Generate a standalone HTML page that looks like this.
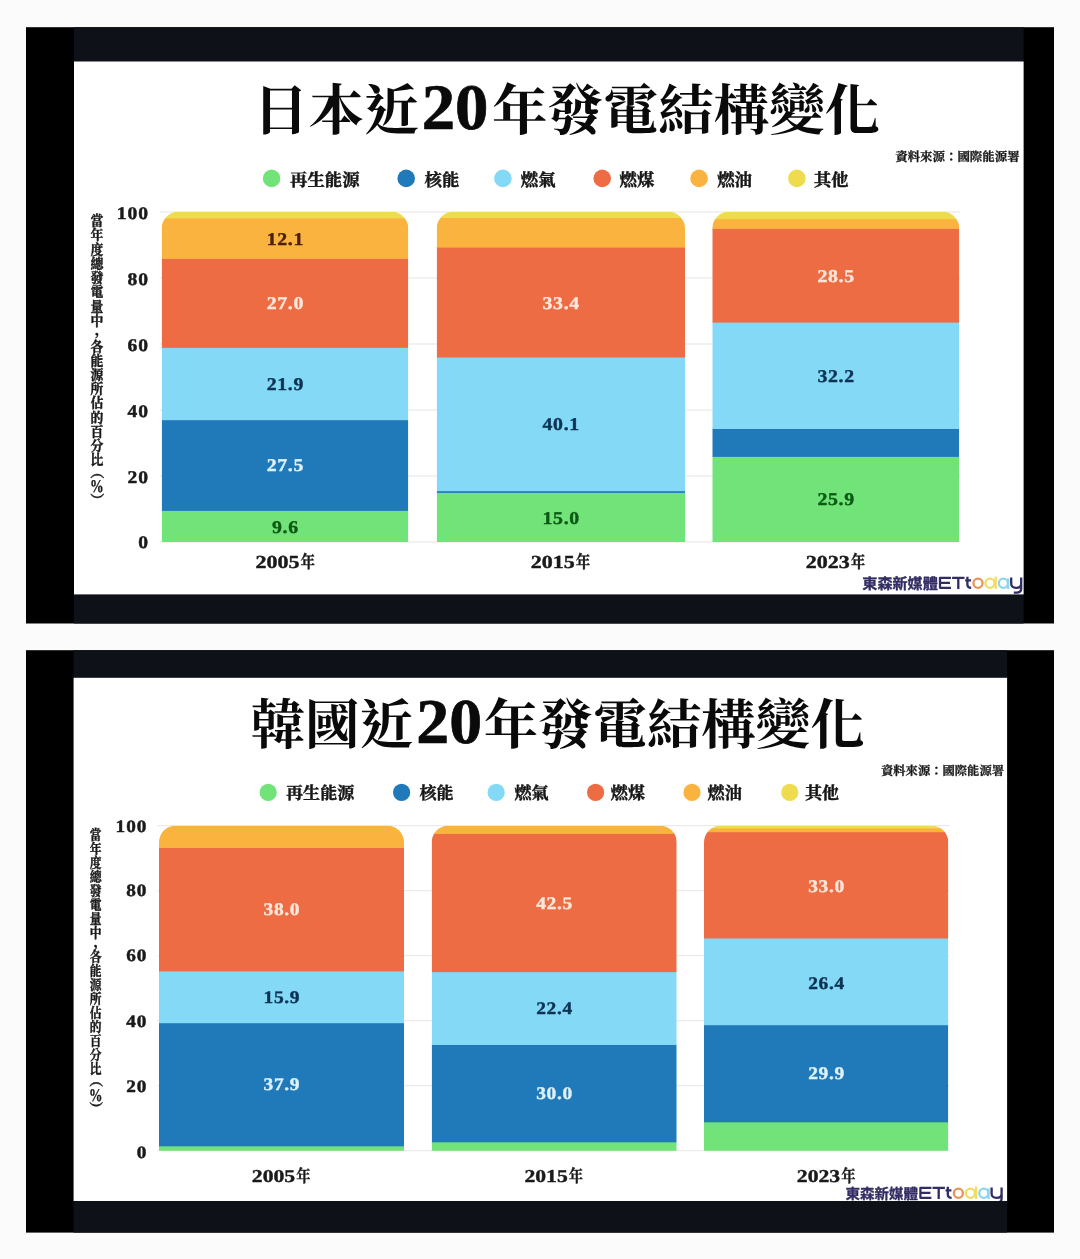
<!DOCTYPE html>
<html lang="zh-Hant">
<head>
<meta charset="utf-8">
<title>日本、韓國近20年發電結構變化</title>
<style>
html,body{margin:0;padding:0;background:#fbfbfb;}
body{width:1080px;height:1259px;overflow:hidden;position:relative;font-family:"Liberation Serif",serif;}
svg{position:absolute;left:0;top:0;display:block;will-change:transform;}
.cjk{font-family:"Liberation Serif","Noto Serif CJK SC",serif;font-weight:700;}
.cjks{font-family:"Liberation Sans","Noto Sans CJK TC",sans-serif;font-weight:700;}
</style>
</head>
<body>
<svg width="1080" height="1259" viewBox="0 0 1080 1259" text-rendering="geometricPrecision">
<rect x="26" y="27.2" width="1028" height="596.3" fill="#000"/>
<rect x="74" y="27.2" width="949.6" height="596.3" fill="#0e1218"/>
<rect x="74" y="61.5" width="949.6" height="532.9" fill="#fff"/>
<clipPath id="cp1"><rect x="74" y="61.5" width="949.6" height="532.9"/></clipPath>
<g clip-path="url(#cp1)">
<text class="cjk" x="253" y="129.5" font-size="55.45" fill="#0a0a0a">日本近</text>
<text transform="translate(421.75 129.2) scale(1.03 1)" font-family="Liberation Serif" font-weight="700" font-size="64.8" fill="#0a0a0a" stroke="#0a0a0a" stroke-width="0.7">20</text>
<text class="cjk" x="491.95" y="129.5" font-size="55.45" fill="#0a0a0a">年發電結構變化</text>
<text class="cjk" x="895.2" y="160.7" font-size="12.45" fill="#1a1a1a" stroke="#1a1a1a" stroke-width="0.3" stroke-linejoin="round">資料來源：國際能源署</text>
<circle cx="271.6" cy="178.4" r="8.8" fill="#72e379"/>
<text class="cjk" x="290" y="185.6" font-size="17.4" fill="#161616" stroke="#161616" stroke-width="0.45" stroke-linejoin="round">再生能源</text>
<circle cx="406.2" cy="178.4" r="8.8" fill="#2079b8"/>
<text class="cjk" x="424.6" y="185.6" font-size="17.4" fill="#161616" stroke="#161616" stroke-width="0.45" stroke-linejoin="round">核能</text>
<circle cx="502.9" cy="178.4" r="8.8" fill="#83d9f6"/>
<text class="cjk" x="520.8" y="185.6" font-size="17.4" fill="#161616" stroke="#161616" stroke-width="0.45" stroke-linejoin="round">燃氣</text>
<circle cx="602.2" cy="178.4" r="8.8" fill="#ed6c43"/>
<text class="cjk" x="619.5" y="185.6" font-size="17.4" fill="#161616" stroke="#161616" stroke-width="0.45" stroke-linejoin="round">燃煤</text>
<circle cx="699.1" cy="178.4" r="8.8" fill="#fbb33f"/>
<text class="cjk" x="717.2" y="185.6" font-size="17.4" fill="#161616" stroke="#161616" stroke-width="0.45" stroke-linejoin="round">燃油</text>
<circle cx="796.9" cy="178.4" r="8.8" fill="#efdc4e"/>
<text class="cjk" x="813.8" y="185.6" font-size="17.4" fill="#161616" stroke="#161616" stroke-width="0.45" stroke-linejoin="round">其他</text>
<rect x="160" y="541.5" width="800.5" height="1" fill="#e6e6e6"/>
<rect x="160" y="475.5" width="800.5" height="1" fill="#e6e6e6"/>
<rect x="160" y="409.5" width="800.5" height="1" fill="#e6e6e6"/>
<rect x="160" y="343.5" width="800.5" height="1" fill="#e6e6e6"/>
<rect x="160" y="277.5" width="800.5" height="1" fill="#e6e6e6"/>
<rect x="160" y="211.5" width="800.5" height="1" fill="#e6e6e6"/>
<text transform="translate(148 218.82) scale(1.1 1)" x="0.9" text-anchor="end" font-family="Liberation Serif" font-weight="700" font-size="17.8" letter-spacing="0.9" fill="#1a1a1a" stroke="#1a1a1a" stroke-width="0.45" stroke-linejoin="round">100</text>
<text transform="translate(148 285.02) scale(1.1 1)" x="0.9" text-anchor="end" font-family="Liberation Serif" font-weight="700" font-size="17.8" letter-spacing="0.9" fill="#1a1a1a" stroke="#1a1a1a" stroke-width="0.45" stroke-linejoin="round">80</text>
<text transform="translate(148 351.32) scale(1.1 1)" x="0.9" text-anchor="end" font-family="Liberation Serif" font-weight="700" font-size="17.8" letter-spacing="0.9" fill="#1a1a1a" stroke="#1a1a1a" stroke-width="0.45" stroke-linejoin="round">60</text>
<text transform="translate(148 417.02) scale(1.1 1)" x="0.9" text-anchor="end" font-family="Liberation Serif" font-weight="700" font-size="17.8" letter-spacing="0.9" fill="#1a1a1a" stroke="#1a1a1a" stroke-width="0.45" stroke-linejoin="round">40</text>
<text transform="translate(148 482.72) scale(1.1 1)" x="0.9" text-anchor="end" font-family="Liberation Serif" font-weight="700" font-size="17.8" letter-spacing="0.9" fill="#1a1a1a" stroke="#1a1a1a" stroke-width="0.45" stroke-linejoin="round">20</text>
<text transform="translate(148 548.42) scale(1.1 1)" x="0.9" text-anchor="end" font-family="Liberation Serif" font-weight="700" font-size="17.8" letter-spacing="0.9" fill="#1a1a1a" stroke="#1a1a1a" stroke-width="0.45" stroke-linejoin="round">0</text>
<g fill="#1a1a1a" stroke="#1a1a1a" stroke-width="0.45" stroke-linejoin="round">
<text class="cjk" transform="translate(90.48 0) scale(0.88 1)" font-size="14.6" x="0 0 0 0 0 0 0 0 0 0 0 0 0 0 0 0 0" y="225.95 240.25 254.55 268.85 283.15 297.45 311.75 326.05 351.95 366.08 380.21 394.34 408.47 422.6 436.73 450.86 464.99">當年度總發電量中各能源所佔的百分比</text>
<text class="cjk" x="94.8" y="334.5" font-size="14.6">，</text>
<g transform="translate(96.9 486) rotate(90)">
<text class="cjk" x="-20.94" y="5.27" font-size="13.87">（</text>
<text class="cjk" x="7.07" y="5.27" font-size="13.87">）</text>
</g>
</g>
<text transform="translate(96.9 492.39) scale(0.76 1)" text-anchor="middle" font-family="Liberation Serif" font-weight="700" font-size="18" fill="#1a1a1a" stroke="#1a1a1a" stroke-width="0.3">%</text>
<clipPath id="bp10"><path d="M161.7 542 V228.3 A16.5 16.5 0 0 1 178.2 211.8 H391.8 A16.5 16.5 0 0 1 408.3 228.3 V542 Z"/></clipPath>
<g clip-path="url(#bp10)">
<rect x="161.7" y="510.3" width="246.6" height="32.3" fill="#72e379"/>
<rect x="161.7" y="419.6" width="246.6" height="91.3" fill="#2079b8"/>
<rect x="161.7" y="347.3" width="246.6" height="72.9" fill="#83d9f6"/>
<rect x="161.7" y="258.2" width="246.6" height="89.7" fill="#ed6c43"/>
<rect x="161.7" y="217.8" width="246.6" height="41" fill="#fbb33f"/>
<rect x="161.7" y="211.8" width="246.6" height="6.6" fill="#efdc4e"/>
</g>
<text transform="translate(285 245.28) scale(1.1 1)" x="0.3" text-anchor="middle" font-family="Liberation Serif" font-weight="700" font-size="18" letter-spacing="0.6" fill="#4a2203" stroke="#4a2203" stroke-width="0.4" stroke-linejoin="round">12.1</text>
<text transform="translate(285 308.88) scale(1.1 1)" x="0.3" text-anchor="middle" font-family="Liberation Serif" font-weight="700" font-size="18" letter-spacing="0.6" fill="#fde6da" stroke="#fde6da" stroke-width="0.4" stroke-linejoin="round">27.0</text>
<text transform="translate(285 389.58) scale(1.1 1)" x="0.3" text-anchor="middle" font-family="Liberation Serif" font-weight="700" font-size="18" letter-spacing="0.6" fill="#0c3353" stroke="#0c3353" stroke-width="0.4" stroke-linejoin="round">21.9</text>
<text transform="translate(285 471.48) scale(1.1 1)" x="0.3" text-anchor="middle" font-family="Liberation Serif" font-weight="700" font-size="18" letter-spacing="0.6" fill="#dcf1fb" stroke="#dcf1fb" stroke-width="0.4" stroke-linejoin="round">27.5</text>
<text transform="translate(285 532.58) scale(1.1 1)" x="0.3" text-anchor="middle" font-family="Liberation Serif" font-weight="700" font-size="18" letter-spacing="0.6" fill="#0b5a14" stroke="#0b5a14" stroke-width="0.4" stroke-linejoin="round">9.6</text>
<text x="255.41" y="567.72" font-family="Liberation Serif" font-weight="700" font-size="18.4" textLength="44" lengthAdjust="spacingAndGlyphs" fill="#1a1a1a" stroke="#1a1a1a" stroke-width="0.4">2005</text>
<text class="cjk" transform="translate(300.41 567.8) scale(0.82 1)" font-size="17.7" fill="#1a1a1a" stroke="#1a1a1a" stroke-width="0.35" stroke-linejoin="round">年</text>
<clipPath id="bp11"><path d="M436.7 542 V228.3 A16.5 16.5 0 0 1 453.2 211.8 H668.5 A16.5 16.5 0 0 1 685 228.3 V542 Z"/></clipPath>
<g clip-path="url(#bp11)">
<rect x="436.7" y="492.3" width="248.3" height="50.3" fill="#72e379"/>
<rect x="436.7" y="490.6" width="248.3" height="2.3" fill="#2079b8"/>
<rect x="436.7" y="356.9" width="248.3" height="134.3" fill="#83d9f6"/>
<rect x="436.7" y="247" width="248.3" height="110.5" fill="#ed6c43"/>
<rect x="436.7" y="217.4" width="248.3" height="30.2" fill="#fbb33f"/>
<rect x="436.7" y="211.8" width="248.3" height="6.2" fill="#efdc4e"/>
</g>
<text transform="translate(560.85 308.68) scale(1.1 1)" x="0.3" text-anchor="middle" font-family="Liberation Serif" font-weight="700" font-size="18" letter-spacing="0.6" fill="#fde6da" stroke="#fde6da" stroke-width="0.4" stroke-linejoin="round">33.4</text>
<text transform="translate(560.85 429.68) scale(1.1 1)" x="0.3" text-anchor="middle" font-family="Liberation Serif" font-weight="700" font-size="18" letter-spacing="0.6" fill="#0c3353" stroke="#0c3353" stroke-width="0.4" stroke-linejoin="round">40.1</text>
<text transform="translate(560.85 523.58) scale(1.1 1)" x="0.3" text-anchor="middle" font-family="Liberation Serif" font-weight="700" font-size="18" letter-spacing="0.6" fill="#0b5a14" stroke="#0b5a14" stroke-width="0.4" stroke-linejoin="round">15.0</text>
<text x="530.81" y="567.72" font-family="Liberation Serif" font-weight="700" font-size="18.4" textLength="44" lengthAdjust="spacingAndGlyphs" fill="#1a1a1a" stroke="#1a1a1a" stroke-width="0.4">2015</text>
<text class="cjk" transform="translate(575.81 567.8) scale(0.82 1)" font-size="17.7" fill="#1a1a1a" stroke="#1a1a1a" stroke-width="0.35" stroke-linejoin="round">年</text>
<clipPath id="bp12"><path d="M712.3 542 V228.3 A16.5 16.5 0 0 1 728.8 211.8 H942.8 A16.5 16.5 0 0 1 959.3 228.3 V542 Z"/></clipPath>
<g clip-path="url(#bp12)">
<rect x="712.3" y="456.3" width="247" height="86.3" fill="#72e379"/>
<rect x="712.3" y="428.4" width="247" height="28.5" fill="#2079b8"/>
<rect x="712.3" y="322" width="247" height="107" fill="#83d9f6"/>
<rect x="712.3" y="228.2" width="247" height="94.4" fill="#ed6c43"/>
<rect x="712.3" y="218.6" width="247" height="10.2" fill="#fbb33f"/>
<rect x="712.3" y="211.8" width="247" height="7.4" fill="#efdc4e"/>
</g>
<text transform="translate(835.8 281.68) scale(1.1 1)" x="0.3" text-anchor="middle" font-family="Liberation Serif" font-weight="700" font-size="18" letter-spacing="0.6" fill="#fde6da" stroke="#fde6da" stroke-width="0.4" stroke-linejoin="round">28.5</text>
<text transform="translate(835.8 381.68) scale(1.1 1)" x="0.3" text-anchor="middle" font-family="Liberation Serif" font-weight="700" font-size="18" letter-spacing="0.6" fill="#0c3353" stroke="#0c3353" stroke-width="0.4" stroke-linejoin="round">32.2</text>
<text transform="translate(835.8 504.88) scale(1.1 1)" x="0.3" text-anchor="middle" font-family="Liberation Serif" font-weight="700" font-size="18" letter-spacing="0.6" fill="#0b5a14" stroke="#0b5a14" stroke-width="0.4" stroke-linejoin="round">25.9</text>
<text x="805.81" y="567.72" font-family="Liberation Serif" font-weight="700" font-size="18.4" textLength="44" lengthAdjust="spacingAndGlyphs" fill="#1a1a1a" stroke="#1a1a1a" stroke-width="0.4">2023</text>
<text class="cjk" transform="translate(850.81 567.8) scale(0.82 1)" font-size="17.7" fill="#1a1a1a" stroke="#1a1a1a" stroke-width="0.35" stroke-linejoin="round">年</text>
<text class="cjks" x="862.3" y="589" font-size="15.1" fill="#312c62" stroke="#312c62" stroke-width="0.35" stroke-linejoin="round">東森新媒體</text>
<g role="img" aria-label="ETtoday" transform="translate(937.8 589) scale(1)" fill="none" stroke-width="2.3" stroke-linecap="butt" stroke-linejoin="round"><path stroke="#312c62" d="M13.2 -11.1H2.2V-1.2H13.2M2.2 -6.15H12.2"/><path stroke="#312c62" d="M14.3 -11.1H26.7M20.5 -11.1V0"/><path stroke="#312c62" d="M29.6 -12.3V-4.2Q29.6 -1.2 33.4 -1.2M27.4 -8.6H33.2"/><circle stroke="#e9925a" cx="40.2" cy="-5.75" r="4.55"/><circle stroke="#f1dc63" cx="52.2" cy="-5.75" r="4.55"/><path stroke="#f1dc63" d="M57.9 -12.3V0"/><circle stroke="#8fd4ee" cx="65.6" cy="-5.75" r="4.55"/><path stroke="#8fd4ee" d="M70.3 -10.6V0"/><path stroke="#312c62" d="M73.4 -11.4V-5.6Q73.4 -1.2 78.4 -1.2Q83.4 -1.2 83.4 -5.6M83.4 -11.4V-0.5Q83.4 3.6 78.6 3.6H76"/></g>
</g>
<rect x="26" y="650.2" width="1028" height="582.4" fill="#000"/>
<rect x="73.6" y="650.2" width="933.5" height="582.4" fill="#0e1218"/>
<rect x="73.6" y="677.8" width="933.5" height="523.2" fill="#fff"/>
<clipPath id="cp2"><rect x="73.6" y="677.8" width="933.5" height="523.2"/></clipPath>
<g clip-path="url(#cp2)">
<text class="cjk" x="250.7" y="743.6" font-size="54.4" fill="#0a0a0a">韓國近</text>
<text transform="translate(416.3 743.3) scale(1.03 1)" font-family="Liberation Serif" font-weight="700" font-size="63.8" fill="#0a0a0a" stroke="#0a0a0a" stroke-width="0.7">20</text>
<text class="cjk" x="483.8" y="743.6" font-size="54.4" fill="#0a0a0a">年發電結構變化</text>
<text class="cjk" x="881" y="774.9" font-size="12.3" fill="#1a1a1a" stroke="#1a1a1a" stroke-width="0.3" stroke-linejoin="round">資料來源：國際能源署</text>
<circle cx="268.2" cy="792.4" r="8.6" fill="#72e379"/>
<text class="cjk" x="286" y="799.4" font-size="17.1" fill="#161616" stroke="#161616" stroke-width="0.45" stroke-linejoin="round">再生能源</text>
<circle cx="401.6" cy="792.4" r="8.6" fill="#2079b8"/>
<text class="cjk" x="419.4" y="799.4" font-size="17.1" fill="#161616" stroke="#161616" stroke-width="0.45" stroke-linejoin="round">核能</text>
<circle cx="496.2" cy="792.4" r="8.6" fill="#83d9f6"/>
<text class="cjk" x="514.4" y="799.4" font-size="17.1" fill="#161616" stroke="#161616" stroke-width="0.45" stroke-linejoin="round">燃氣</text>
<circle cx="595.6" cy="792.4" r="8.6" fill="#ed6c43"/>
<text class="cjk" x="610.8" y="799.4" font-size="17.1" fill="#161616" stroke="#161616" stroke-width="0.45" stroke-linejoin="round">燃煤</text>
<circle cx="692" cy="792.4" r="8.6" fill="#fbb33f"/>
<text class="cjk" x="707.6" y="799.4" font-size="17.1" fill="#161616" stroke="#161616" stroke-width="0.45" stroke-linejoin="round">燃油</text>
<circle cx="789.8" cy="792.4" r="8.6" fill="#efdc4e"/>
<text class="cjk" x="805" y="799.4" font-size="17.1" fill="#161616" stroke="#161616" stroke-width="0.45" stroke-linejoin="round">其他</text>
<rect x="157.5" y="1150.2" width="792" height="1" fill="#e6e6e6"/>
<rect x="157.5" y="1085.2" width="792" height="1" fill="#e6e6e6"/>
<rect x="157.5" y="1020.2" width="792" height="1" fill="#e6e6e6"/>
<rect x="157.5" y="955.2" width="792" height="1" fill="#e6e6e6"/>
<rect x="157.5" y="890.2" width="792" height="1" fill="#e6e6e6"/>
<rect x="157.5" y="825.2" width="792" height="1" fill="#e6e6e6"/>
<text transform="translate(146.4 832.12) scale(1.1 1)" x="0.9" text-anchor="end" font-family="Liberation Serif" font-weight="700" font-size="17.5" letter-spacing="0.9" fill="#1a1a1a" stroke="#1a1a1a" stroke-width="0.45" stroke-linejoin="round">100</text>
<text transform="translate(146.4 896.12) scale(1.1 1)" x="0.9" text-anchor="end" font-family="Liberation Serif" font-weight="700" font-size="17.5" letter-spacing="0.9" fill="#1a1a1a" stroke="#1a1a1a" stroke-width="0.45" stroke-linejoin="round">80</text>
<text transform="translate(146.4 961.41) scale(1.1 1)" x="0.9" text-anchor="end" font-family="Liberation Serif" font-weight="700" font-size="17.5" letter-spacing="0.9" fill="#1a1a1a" stroke="#1a1a1a" stroke-width="0.45" stroke-linejoin="round">60</text>
<text transform="translate(146.4 1027.02) scale(1.1 1)" x="0.9" text-anchor="end" font-family="Liberation Serif" font-weight="700" font-size="17.5" letter-spacing="0.9" fill="#1a1a1a" stroke="#1a1a1a" stroke-width="0.45" stroke-linejoin="round">40</text>
<text transform="translate(146.4 1092.12) scale(1.1 1)" x="0.9" text-anchor="end" font-family="Liberation Serif" font-weight="700" font-size="17.5" letter-spacing="0.9" fill="#1a1a1a" stroke="#1a1a1a" stroke-width="0.45" stroke-linejoin="round">20</text>
<text transform="translate(146.4 1157.71) scale(1.1 1)" x="0.9" text-anchor="end" font-family="Liberation Serif" font-weight="700" font-size="17.5" letter-spacing="0.9" fill="#1a1a1a" stroke="#1a1a1a" stroke-width="0.45" stroke-linejoin="round">0</text>
<g fill="#1a1a1a" stroke="#1a1a1a" stroke-width="0.42" stroke-linejoin="round">
<text class="cjk" transform="translate(89.82 0) scale(0.82 1)" font-size="14.35" x="0 0 0 0 0 0 0 0 0 0 0 0 0 0 0 0 0" y="840.25 854.23 868.21 882.19 896.17 910.15 924.13 938.11 961.95 975.9 989.85 1003.8 1017.75 1031.7 1045.65 1059.6 1073.55">當年度總發電量中各能源所佔的百分比</text>
<text class="cjk" x="93.6" y="947.3" font-size="14.35">，</text>
<g transform="translate(95.7 1094.3) rotate(90)">
<text class="cjk" x="-20.78" y="5.18" font-size="13.63">（</text>
<text class="cjk" x="7.15" y="5.18" font-size="13.63">）</text>
</g>
</g>
<text transform="translate(95.7 1101.09) scale(0.76 1)" text-anchor="middle" font-family="Liberation Serif" font-weight="700" font-size="17.7" fill="#1a1a1a" stroke="#1a1a1a" stroke-width="0.3">%</text>
<clipPath id="bp20"><path d="M159 1150.7 V842.2 A16.5 16.5 0 0 1 175.5 825.7 H387.5 A16.5 16.5 0 0 1 404 842.2 V1150.7 Z"/></clipPath>
<g clip-path="url(#bp20)">
<rect x="159" y="1145.7" width="245" height="5.6" fill="#72e379"/>
<rect x="159" y="1022.6" width="245" height="123.7" fill="#2079b8"/>
<rect x="159" y="970.8" width="245" height="52.4" fill="#83d9f6"/>
<rect x="159" y="847.3" width="245" height="124.1" fill="#ed6c43"/>
<rect x="159" y="825.7" width="245" height="22.2" fill="#fbb33f"/>
</g>
<text transform="translate(281.5 915.18) scale(1.1 1)" x="0.3" text-anchor="middle" font-family="Liberation Serif" font-weight="700" font-size="17.7" letter-spacing="0.6" fill="#fde6da" stroke="#fde6da" stroke-width="0.4" stroke-linejoin="round">38.0</text>
<text transform="translate(281.5 1002.68) scale(1.1 1)" x="0.3" text-anchor="middle" font-family="Liberation Serif" font-weight="700" font-size="17.7" letter-spacing="0.6" fill="#0c3353" stroke="#0c3353" stroke-width="0.4" stroke-linejoin="round">15.9</text>
<text transform="translate(281.5 1090.18) scale(1.1 1)" x="0.3" text-anchor="middle" font-family="Liberation Serif" font-weight="700" font-size="17.7" letter-spacing="0.6" fill="#dcf1fb" stroke="#dcf1fb" stroke-width="0.4" stroke-linejoin="round">37.9</text>
<text x="251.87" y="1181.62" font-family="Liberation Serif" font-weight="700" font-size="18.1" textLength="43.3" lengthAdjust="spacingAndGlyphs" fill="#1a1a1a" stroke="#1a1a1a" stroke-width="0.4">2005</text>
<text class="cjk" transform="translate(296.17 1181.7) scale(0.82 1)" font-size="17.4" fill="#1a1a1a" stroke="#1a1a1a" stroke-width="0.35" stroke-linejoin="round">年</text>
<clipPath id="bp21"><path d="M431.7 1150.7 V842.2 A16.5 16.5 0 0 1 448.2 825.7 H660.2 A16.5 16.5 0 0 1 676.7 842.2 V1150.7 Z"/></clipPath>
<g clip-path="url(#bp21)">
<rect x="431.7" y="1141.7" width="245" height="9.6" fill="#72e379"/>
<rect x="431.7" y="1044.4" width="245" height="97.9" fill="#2079b8"/>
<rect x="431.7" y="971.5" width="245" height="73.5" fill="#83d9f6"/>
<rect x="431.7" y="833.3" width="245" height="138.8" fill="#ed6c43"/>
<rect x="431.7" y="825.7" width="245" height="8.2" fill="#fbb33f"/>
</g>
<text transform="translate(554.2 908.78) scale(1.1 1)" x="0.3" text-anchor="middle" font-family="Liberation Serif" font-weight="700" font-size="17.7" letter-spacing="0.6" fill="#fde6da" stroke="#fde6da" stroke-width="0.4" stroke-linejoin="round">42.5</text>
<text transform="translate(554.2 1013.98) scale(1.1 1)" x="0.3" text-anchor="middle" font-family="Liberation Serif" font-weight="700" font-size="17.7" letter-spacing="0.6" fill="#0c3353" stroke="#0c3353" stroke-width="0.4" stroke-linejoin="round">22.4</text>
<text transform="translate(554.2 1099.18) scale(1.1 1)" x="0.3" text-anchor="middle" font-family="Liberation Serif" font-weight="700" font-size="17.7" letter-spacing="0.6" fill="#dcf1fb" stroke="#dcf1fb" stroke-width="0.4" stroke-linejoin="round">30.0</text>
<text x="524.47" y="1181.62" font-family="Liberation Serif" font-weight="700" font-size="18.1" textLength="43.3" lengthAdjust="spacingAndGlyphs" fill="#1a1a1a" stroke="#1a1a1a" stroke-width="0.4">2015</text>
<text class="cjk" transform="translate(568.77 1181.7) scale(0.82 1)" font-size="17.4" fill="#1a1a1a" stroke="#1a1a1a" stroke-width="0.35" stroke-linejoin="round">年</text>
<clipPath id="bp22"><path d="M704 1150.7 V842.2 A16.5 16.5 0 0 1 720.5 825.7 H931.8 A16.5 16.5 0 0 1 948.3 842.2 V1150.7 Z"/></clipPath>
<g clip-path="url(#bp22)">
<rect x="704" y="1121.7" width="244.3" height="29.6" fill="#72e379"/>
<rect x="704" y="1024.6" width="244.3" height="97.7" fill="#2079b8"/>
<rect x="704" y="937.9" width="244.3" height="87.3" fill="#83d9f6"/>
<rect x="704" y="831.6" width="244.3" height="106.9" fill="#ed6c43"/>
<rect x="704" y="827.8" width="244.3" height="4.4" fill="#fbb33f"/>
<rect x="704" y="825.7" width="244.3" height="2.7" fill="#efdc4e"/>
</g>
<text transform="translate(826.15 891.98) scale(1.1 1)" x="0.3" text-anchor="middle" font-family="Liberation Serif" font-weight="700" font-size="17.7" letter-spacing="0.6" fill="#fde6da" stroke="#fde6da" stroke-width="0.4" stroke-linejoin="round">33.0</text>
<text transform="translate(826.15 988.58) scale(1.1 1)" x="0.3" text-anchor="middle" font-family="Liberation Serif" font-weight="700" font-size="17.7" letter-spacing="0.6" fill="#0c3353" stroke="#0c3353" stroke-width="0.4" stroke-linejoin="round">26.4</text>
<text transform="translate(826.15 1078.98) scale(1.1 1)" x="0.3" text-anchor="middle" font-family="Liberation Serif" font-weight="700" font-size="17.7" letter-spacing="0.6" fill="#dcf1fb" stroke="#dcf1fb" stroke-width="0.4" stroke-linejoin="round">29.9</text>
<text x="796.87" y="1181.62" font-family="Liberation Serif" font-weight="700" font-size="18.1" textLength="43.3" lengthAdjust="spacingAndGlyphs" fill="#1a1a1a" stroke="#1a1a1a" stroke-width="0.4">2023</text>
<text class="cjk" transform="translate(841.17 1181.7) scale(0.82 1)" font-size="17.4" fill="#1a1a1a" stroke="#1a1a1a" stroke-width="0.35" stroke-linejoin="round">年</text>
<text class="cjks" x="845.4" y="1199" font-size="14.5" fill="#312c62" stroke="#312c62" stroke-width="0.35" stroke-linejoin="round">東森新媒體</text>
<g role="img" aria-label="ETtoday" transform="translate(918.2 1199) scale(1)" fill="none" stroke-width="2.3" stroke-linecap="butt" stroke-linejoin="round"><path stroke="#312c62" d="M13.2 -11.1H2.2V-1.2H13.2M2.2 -6.15H12.2"/><path stroke="#312c62" d="M14.3 -11.1H26.7M20.5 -11.1V0"/><path stroke="#312c62" d="M29.6 -12.3V-4.2Q29.6 -1.2 33.4 -1.2M27.4 -8.6H33.2"/><circle stroke="#e9925a" cx="40.2" cy="-5.75" r="4.55"/><circle stroke="#f1dc63" cx="52.2" cy="-5.75" r="4.55"/><path stroke="#f1dc63" d="M57.9 -12.3V0"/><circle stroke="#8fd4ee" cx="65.6" cy="-5.75" r="4.55"/><path stroke="#8fd4ee" d="M70.3 -10.6V0"/><path stroke="#312c62" d="M73.4 -11.4V-5.6Q73.4 -1.2 78.4 -1.2Q83.4 -1.2 83.4 -5.6M83.4 -11.4V-0.5Q83.4 3.6 78.6 3.6H76"/></g>
</g>
</svg>
</body>
</html>
